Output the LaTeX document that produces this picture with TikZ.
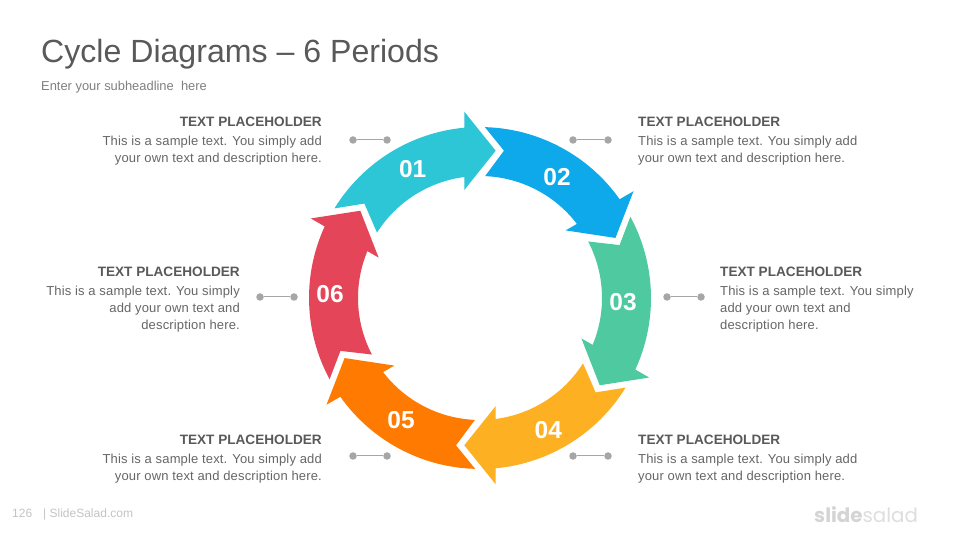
\documentclass[tikz,border=0pt]{standalone}
\usepackage{fontspec}
\setmainfont{Liberation Sans}
\newfontfamily\logofont{Poppins}
\newfontfamily\bodyfont[LetterSpace=1.2]{Liberation Sans}
\definecolor{cA}{HTML}{2CC6D6}
\definecolor{cB}{HTML}{0DA9EA}
\definecolor{cC}{HTML}{4EC9A0}
\definecolor{cD}{HTML}{FDB022}
\definecolor{cE}{HTML}{FF7A00}
\definecolor{cF}{HTML}{E44558}
\definecolor{headc}{HTML}{595959}
\definecolor{bodyc}{HTML}{666666}
\definecolor{subc}{HTML}{808080}
\definecolor{footc}{HTML}{C4C4C4}
\definecolor{dotc}{HTML}{A6A6A6}
\tikzset{
  x=1pt,y=1pt,
  titletext/.style={anchor=base west,inner sep=0,text=headc,font=\fontsize{32.1}{36}\selectfont},
  subtext/.style={anchor=base west,inner sep=0,text=subc,font=\fontsize{12.9}{15}\selectfont},
  headtext/.style={inner sep=0,text=headc,font=\fontsize{13.6}{17}\selectfont\bfseries},
  bodytext/.style={inner sep=0,text=bodyc,font=\bodyfont\fontsize{13}{17}\selectfont},
  numtext/.style={inner sep=0,text=white,font=\fontsize{24.5}{28}\selectfont\bfseries},
  foottext/.style={anchor=base west,inner sep=0,text=footc,font=\fontsize{12}{14}\selectfont},
  dotnode/.style={circle,fill=dotc,inner sep=0,minimum size=7.5pt},
  dotline/.style={draw=dotc,line width=1pt},
}
\newcommand{\infoR}[4]{% name, x, baseline y, body lines
  \node[headtext,anchor=base west] (#1h) at (#2,#3) {TEXT PLACEHOLDER};
  \node[bodytext,anchor=north west,align=left] (#1b) at (#2,{#3-8.6}) {#4};
}
\newcommand{\infoL}[4]{%
  \node[headtext,anchor=base east] (#1h) at (#2,#3) {TEXT PLACEHOLDER};
  \node[bodytext,anchor=north east,align=right] (#1b) at (#2,{#3-8.6}) {#4};
}
\begin{document}
\begin{tikzpicture}
\useasboundingbox (0,0) rectangle (960,540);
\fill[white] (0,0) rectangle (960,540);
\node[titletext] (title) at (41,477.3) {Cycle Diagrams – 6 Periods};
\node[subtext] (sub) at (41,449) {Enter your subheadline\ \ here};
% ring of arrows
\foreach \k/\c in {0/cA,1/cB,2/cC,3/cD,4/cE,5/cF}{
  \begin{scope}[shift={(480,242)},rotate={-60*\k}]
    \fill[\c] (15.7,147.3) -- (-15.7,186.3) -- (-15.7,170.3)
      arc[start angle=95.3,end angle=148.4,radius=171]
      -- (-115.6,94.4) -- (147.6:122)
      arc[start angle=147.6,end angle=97.4,radius=122]
      -- (-15.7,108) -- cycle;
  \end{scope}
}
\node[numtext] (n1) at (412.7,371) {01};
\node[numtext] (n2) at (557,362.5) {02};
\node[numtext] (n3) at (623,237.5) {03};
\node[numtext] (n4) at (548.3,110) {04};
\node[numtext] (n5) at (401,119.5) {05};
\node[numtext] (n6) at (330,245.5) {06};
% dots and connectors
\foreach \n/\xa/\xb/\y in {a/353/387/400,b/573/608/400,c/667/701/243,d/573/608/84,e/353/387/84,f/260/294/243}{
  \node[dotnode] (\n1) at (\xa,\y) {};
  \node[dotnode] (\n2) at (\xb,\y) {};
  \draw[dotline] (\n1) -- (\n2);
}
% texts
\infoL{ta}{322}{413}{This is a sample text. You simply add\\your own text and description here.}
\infoR{tb}{638}{413}{This is a sample text. You simply add\\your own text and description here.}
\infoR{tc}{720}{263}{This is a sample text. You simply\\add your own text and\\description here.}
\infoR{td}{638}{95}{This is a sample text. You simply add\\your own text and description here.}
\infoL{te}{322}{95}{This is a sample text. You simply add\\your own text and description here.}
\infoL{tf}{240}{263}{This is a sample text. You simply\\add your own text and\\description here.}
% footer
\node[foottext] (page) at (12,22) {126};
\node[foottext] (site) at (43,22) {| SlideSalad.com};
\node[inner sep=0,anchor=base west,text=black!17,font=\logofont\fontsize{19.8}{24}\selectfont] (logo) at (814,17) {\textbf{slide}\textcolor{black!13}{salad}};
\end{tikzpicture}
\end{document}
